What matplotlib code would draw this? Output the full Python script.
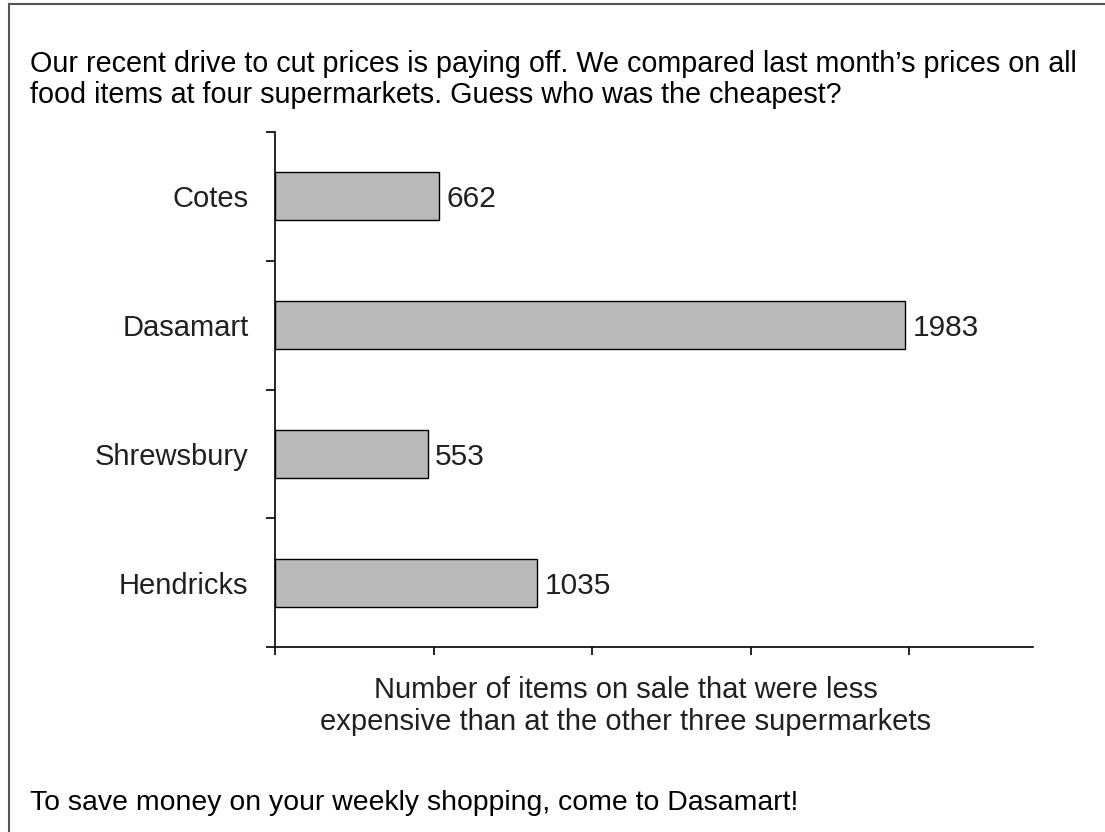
import numpy as np
import matplotlib.pyplot as plt
from matplotlib.lines import Line2D

plt.rcParams['font.family'] = ['Liberation Sans', 'DejaVu Sans']

# --- Data ---
stores = ["Cotes", "Dasamart", "Shrewsbury", "Hendricks"]
items = [662, 1983, 553, 1035]
# bars in the original are not drawn to scale: lengths,
# in units of the (unlabelled) x tick spacing
bar_len = [1.035, 3.975, 0.965, 1.653]
xticks = [0, 1, 2, 3, 4]

header = ("Our recent drive to cut prices is paying off. We compared last month\u2019s prices on all\n"
          "food items at four supermarkets. Guess who was the cheapest?")
footer = "To save money on your weekly shopping, come to Dasamart!"
xlabel = "Number of items on sale that were less\nexpensive than at the other three supermarkets"

txt = "#231f20"
W, H = 1105, 832

fig = plt.figure(figsize=(W / 100, H / 100), dpi=100)
ax = fig.add_axes([275 / W, 1 - 647 / H, (1033 - 275) / W, (647 - 132) / H])

ypos = np.arange(len(stores))
ax.barh(ypos, bar_len, height=0.373, color="#b9b9b9", edgecolor="black", linewidth=1.0)
for y, L, v in zip(ypos, bar_len, items):
    ax.text(L + 0.045, y, str(v), va="center_baseline", ha="left", fontsize=21.5, color=txt)

ax.set_xlim(0, 4.78)
ax.set_ylim(3.5, -0.5)

for s in ["top", "right"]:
    ax.spines[s].set_visible(False)
for s in ["left", "bottom"]:
    ax.spines[s].set_linewidth(1.2)
    ax.spines[s].set_color("black")

ax.set_xticks(xticks)
ax.set_xticklabels([])
ax.tick_params(axis="x", length=6, width=1.2, direction="out")

ax.set_yticks(ypos)
ax.set_yticklabels(stores, fontsize=21, color=txt, va="center_baseline")
ax.set_yticks(np.arange(-0.5, 4.0, 1.0), minor=True)
ax.tick_params(axis="y", which="major", length=0, pad=19)
ax.tick_params(axis="y", which="minor", length=6.5, width=1.2, direction="out")

# x label block sits a little left of the axis centre in the original
fig.text(626 / W, 1 - 706 / H, xlabel, fontsize=21, color=txt, ha="center", va="center",
         linespacing=1.2)

fig.text(30 / W, 1 - 50 / H, header, fontsize=20.7, color="black", va="top", ha="left",
         linespacing=1.14)
fig.text(30 / W, 1 - 803 / H, footer, fontsize=20.4, color="black", va="center", ha="left")

# border: left and top edges only
fig.add_artist(Line2D([9 / W, 9 / W], [0, 1 - 4 / H], color="#555555", lw=1.5,
                      transform=fig.transFigure))
fig.add_artist(Line2D([9 / W, 1], [1 - 4 / H, 1 - 4 / H], color="#555555", lw=1.5,
                      transform=fig.transFigure))

fig.savefig("out.png", dpi=100)
